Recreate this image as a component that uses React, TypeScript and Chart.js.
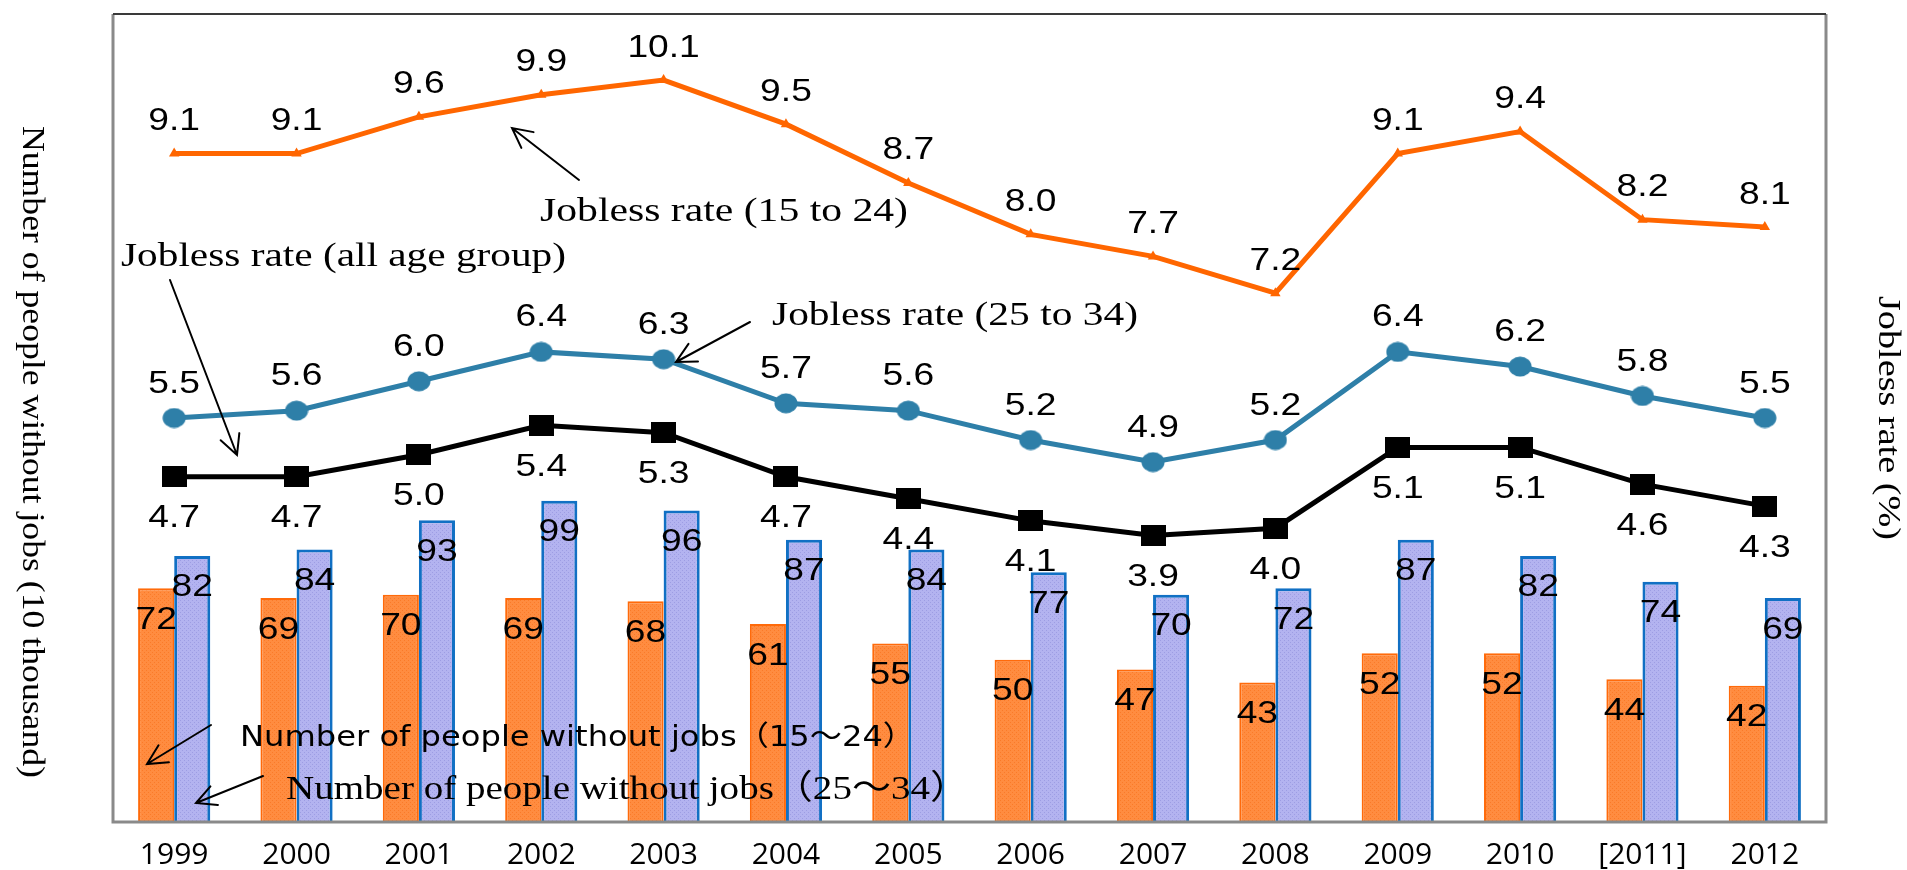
import React, { useEffect, useRef } from "react";
import { Chart, registerables } from "chart.js";

Chart.register(...registerables);

// ---------- data ----------
const years = ["1999", "2000", "2001", "2002", "2003", "2004", "2005", "2006", "2007", "2008", "2009", "2010", "[2011]", "2012"];
const rate15to24 = [9.1, 9.1, 9.6, 9.9, 10.1, 9.5, 8.7, 8.0, 7.7, 7.2, 9.1, 9.4, 8.2, 8.1];
const rate25to34 = [5.5, 5.6, 6.0, 6.4, 6.3, 5.7, 5.6, 5.2, 4.9, 5.2, 6.4, 6.2, 5.8, 5.5];
const rateAll = [4.7, 4.7, 5.0, 5.4, 5.3, 4.7, 4.4, 4.1, 3.9, 4.0, 5.1, 5.1, 4.6, 4.3];
const jobless15to24 = [72, 69, 70, 69, 68, 61, 55, 50, 47, 43, 52, 52, 44, 42];
const jobless25to34 = [82, 84, 93, 99, 96, 87, 84, 77, 70, 72, 87, 82, 74, 69];

const leftAxisTitle = "Number of people without jobs (10 thousand)";
const rightAxisTitle = "Jobless rate (%)";

const SERIF = "'Liberation Serif', 'Noto Sans CJK JP', serif";
const SANS = "'DejaVu Sans', 'Noto Sans CJK JP', sans-serif";

// callout texts: text, font, left x, baseline y, target width
const callouts = [
  { text: "Jobless rate (15 to 24)", font: `34px ${SERIF}`, x: 540, y: 221, w: 368 },
  { text: "Jobless rate (all age group)", font: `33px ${SERIF}`, x: 121, y: 266, w: 445 },
  { text: "Jobless rate (25 to 34)", font: `34px ${SERIF}`, x: 772, y: 325, w: 366 },
  { text: "Number of people without jobs（15～24）", font: `28px ${SANS}`, x: 240, y: 746, w: 675 },
  { text: "Number of people without jobs（25～34）", font: `34px ${SERIF}`, x: 286, y: 799, w: 683 },
];
// callout arrows: tail -> head
const calloutArrows = [
  { from: [579, 180], to: [512, 128] },
  { from: [170, 280], to: [237, 455] },
  { from: [750, 322], to: [676, 362] },
  { from: [211, 725], to: [147, 764] },
  { from: [263, 776], to: [196, 803] },
];

// value label settings per dataset index: vertical offset and decimals
const labelOffsets = [32, 32, -32, -34, 42];
const labelDecimals = [0, 0, 1, 1, 1];

function drawStretched(ctx: CanvasRenderingContext2D, text: string, x: number, y: number, font: string, sx: number) {
  ctx.save();
  ctx.font = font;
  ctx.translate(x, y);
  ctx.scale(sx, 1);
  ctx.textAlign = "center";
  ctx.textBaseline = "middle";
  ctx.fillStyle = "#000";
  ctx.fillText(text, 0, 0);
  ctx.restore();
}

function drawFit(ctx: CanvasRenderingContext2D, text: string, x: number, y: number, width: number, font: string) {
  ctx.save();
  ctx.font = font;
  const w = ctx.measureText(text).width;
  ctx.translate(x, y);
  ctx.scale(width / w, 1);
  ctx.textAlign = "left";
  ctx.textBaseline = "alphabetic";
  ctx.fillStyle = "#000";
  ctx.fillText(text, 0, 0);
  ctx.restore();
}

function drawVertical(ctx: CanvasRenderingContext2D, text: string, cx: number, cy: number, len: number, font: string) {
  ctx.save();
  ctx.font = font;
  const w = ctx.measureText(text).width;
  ctx.translate(cx, cy);
  ctx.rotate(Math.PI / 2);
  ctx.scale(len / w, 1);
  ctx.textAlign = "center";
  ctx.textBaseline = "middle";
  ctx.fillStyle = "#000";
  ctx.fillText(text, 0, 0);
  ctx.restore();
}

function drawArrow(ctx: CanvasRenderingContext2D, from: number[], to: number[]) {
  const [x1, y1] = from;
  const [x2, y2] = to;
  const ang = Math.atan2(y1 - y2, x1 - x2);
  const L = 22;
  const spread = (27 * Math.PI) / 180;
  ctx.save();
  ctx.strokeStyle = "#000";
  ctx.lineWidth = 2;
  ctx.lineCap = "round";
  ctx.beginPath();
  ctx.moveTo(x1, y1);
  ctx.lineTo(x2, y2);
  ctx.moveTo(x2 + L * Math.cos(ang - spread), y2 + L * Math.sin(ang - spread));
  ctx.lineTo(x2, y2);
  ctx.lineTo(x2 + L * Math.cos(ang + spread), y2 + L * Math.sin(ang + spread));
  ctx.stroke();
  ctx.restore();
}

const decorPlugin = {
  id: "decor",
  afterDatasetsDraw(chart: any) {
    const { ctx, chartArea } = chart;
    const { left, right, top, bottom } = chartArea;
    // frame
    ctx.save();
    ctx.strokeStyle = "#8a8a8a";
    ctx.lineWidth = 3;
    ctx.beginPath();
    ctx.moveTo(left, top);
    ctx.lineTo(left, bottom);
    ctx.lineTo(right, bottom);
    ctx.lineTo(right, top);
    ctx.stroke();
    ctx.strokeStyle = "#3a3a3a";
    ctx.lineWidth = 2;
    ctx.beginPath();
    ctx.moveTo(left, top);
    ctx.lineTo(right, top);
    ctx.stroke();
    ctx.restore();

    // value labels
    chart.data.datasets.forEach((ds: any, i: number) => {
      const meta = chart.getDatasetMeta(i);
      meta.data.forEach((el: any, j: number) => {
        const v = ds.data[j] as number;
        const txt = labelDecimals[i] ? v.toFixed(1) : String(v);
        drawStretched(ctx, txt, el.x, el.y + labelOffsets[i], `31px 'Liberation Sans', Arial, sans-serif`, 1.2);
      });
    });
  },
  afterDraw(chart: any) {
    const { ctx } = chart;
    callouts.forEach((c) => drawFit(ctx, c.text, c.x, c.y, c.w, c.font));
    calloutArrows.forEach((a) => drawArrow(ctx, a.from, a.to));
    drawVertical(ctx, leftAxisTitle, 31, 452, 652, `31px ${SERIF}`);
    drawVertical(ctx, rightAxisTitle, 1887, 418, 244, `31px ${SERIF}`);
  },
};

function makePattern(ctx: CanvasRenderingContext2D, base: string, dot: string) {
  const c = document.createElement("canvas");
  c.width = 4;
  c.height = 4;
  const g = c.getContext("2d")!;
  g.fillStyle = base;
  g.fillRect(0, 0, 4, 4);
  g.fillStyle = dot;
  g.fillRect(0, 0, 1, 1);
  g.fillRect(2, 2, 1, 1);
  return ctx.createPattern(c, "repeat");
}

function makeMarker(w: number, h: number, draw: (g: CanvasRenderingContext2D) => void) {
  const c = document.createElement("canvas");
  c.width = w;
  c.height = h;
  draw(c.getContext("2d")!);
  return c;
}

export default function App() {
  const canvasRef = useRef<HTMLCanvasElement | null>(null);

  useEffect(() => {
    const canvas = canvasRef.current!;
    const ctx = canvas.getContext("2d")!;
    const orangeFill = makePattern(ctx, "#ff8c40", "#fa7a28");
    const blueFill = makePattern(ctx, "#b3b3f0", "#9d9de3");
    const circle = makeMarker(24, 21, (g) => {
      g.fillStyle = "#2e7fa8";
      g.beginPath();
      g.ellipse(12, 10.5, 11.5, 10, 0, 0, Math.PI * 2);
      g.fill();
    });
    const square = makeMarker(25, 21, (g) => {
      g.fillStyle = "#000";
      g.fillRect(0, 0, 25, 21);
    });

    const chart = new Chart(canvas, {
      type: "bar",
      data: {
        labels: years,
        datasets: [
          {
            type: "bar",
            label: "Number of people without jobs (15-24)",
            data: jobless15to24,
            backgroundColor: orangeFill as any,
            borderColor: "#ff6a0a",
            borderWidth: 2,
            yAxisID: "y",
            order: 2,
            categoryPercentage: 0.59,
            barPercentage: 1.0,
          },
          {
            type: "bar",
            label: "Number of people without jobs (25-34)",
            data: jobless25to34,
            backgroundColor: blueFill as any,
            borderColor: "#1170c4",
            borderWidth: 3,
            yAxisID: "y",
            order: 2,
            categoryPercentage: 0.59,
            barPercentage: 1.0,
          },
          {
            type: "line",
            label: "Jobless rate (15 to 24)",
            data: rate15to24,
            borderColor: "#ff6600",
            backgroundColor: "#ff6600",
            borderWidth: 5,
            pointStyle: "triangle",
            pointRadius: 6,
            pointBorderWidth: 0,
            yAxisID: "y1",
            order: 1,
          },
          {
            type: "line",
            label: "Jobless rate (25 to 34)",
            data: rate25to34,
            borderColor: "#2e7fa8",
            backgroundColor: "#2e7fa8",
            borderWidth: 5,
            pointStyle: circle as any,
            yAxisID: "y1",
            order: 1,
          },
          {
            type: "line",
            label: "Jobless rate (all age group)",
            data: rateAll,
            borderColor: "#000",
            backgroundColor: "#000",
            borderWidth: 5,
            pointStyle: square as any,
            yAxisID: "y1",
            order: 0,
          },
        ],
      },
      options: {
        responsive: false,
        animation: false,
        layout: { padding: { left: 113, top: 14, right: 81, bottom: 0 } },
        plugins: { legend: { display: false }, tooltip: { enabled: false } },
        scales: {
          x: {
            offset: true,
            grid: { display: false, drawTicks: false },
            border: { display: false },
            ticks: {
              color: "#000",
              font: { family: "'Open Sans', sans-serif", size: 30 },
              padding: 15,
              maxRotation: 0,
              autoSkip: false,
            },
            afterFit: (s: any) => {
              s.height = 48;
            },
          },
          y: { display: false, min: 0, max: 249 },
          y1: { display: false, min: 0, max: 11, position: "right" },
        },
      },
      plugins: [decorPlugin],
    } as any);

    return () => chart.destroy();
  }, []);

  return (
    <div style={{ position: "absolute", left: 0, top: 0, width: 1907, height: 870, background: "#fff" }}>
      <canvas ref={canvasRef} width={1907} height={870} style={{ display: "block" }} />
    </div>
  );
}
